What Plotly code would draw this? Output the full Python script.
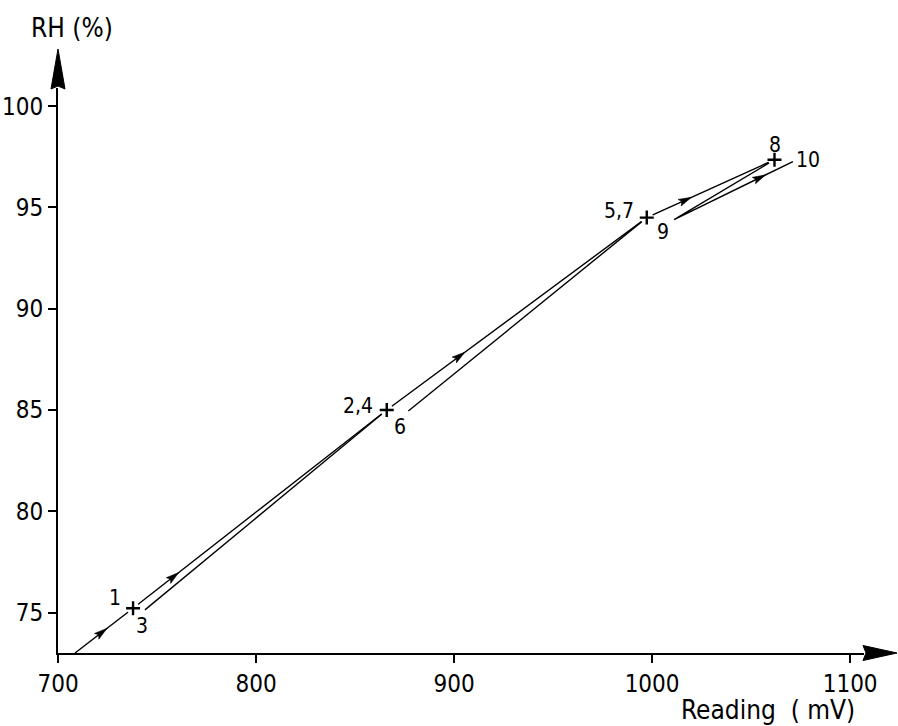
import math
import plotly.graph_objects as go

# ---- data ----
upper_x = [708.6, 737.9, 866.0, 997.3, 1061.8]   # start, 1, 2/4, 5/7, 8
upper_y = [73.0, 75.21, 85.0, 94.5, 97.36]
lower1_x = [743.9, 866.0]   # 3 -> 2,4
lower1_y = [75.13, 85.0]
lower2_x = [876.9, 997.3]   # 6 -> 5,7
lower2_y = [84.95, 94.5]
back_x = [1061.8, 1011.1, 1071.1]   # 8 -> 9 -> 10
back_y = [97.36, 94.4, 97.27]
marker_x = [737.9, 866.0, 997.3, 1061.8]
marker_y = [75.21, 85.0, 94.5, 97.36]
label_text = ["1", "3", "2,4", "6", "5,7", "9", "8", "10"]
label_x = [737.9, 743.9, 866.0, 876.9, 997.3, 1011.1, 1061.8, 1071.1]
label_y = [75.21, 75.13, 85.0, 84.95, 94.5, 94.4, 97.36, 97.27]
label_dx = [-18, -3, -29, -8, -28, -11, 1, 15]
label_dy = [10, -16, 4, -16, 7, -12, 15, 2]
x_ticks = [700, 800, 900, 1000, 1100]
y_ticks = [75, 80, 85, 90, 95, 100]
X_RANGE = [700, 1107]
Y_RANGE = [73, 100.9]

W, H = 898, 726
ML, MR, MT, MB = 58, 34, 88, 73
PW, PH = W - ML - MR, H - MT - MB
sx = PW / (X_RANGE[1] - X_RANGE[0])
sy = PH / (Y_RANGE[1] - Y_RANGE[0])

FONT = "Liberation Sans Narrow, DejaVu Sans Condensed, Arial Narrow, Liberation Sans, sans-serif"

fig = go.Figure()
line = dict(color="black", width=1.4)
fig.add_trace(go.Scatter(x=upper_x, y=upper_y, mode="lines", line=line, hoverinfo="skip"))
fig.add_trace(go.Scatter(x=lower1_x, y=lower1_y, mode="lines", line=line, hoverinfo="skip"))
fig.add_trace(go.Scatter(x=lower2_x, y=lower2_y, mode="lines", line=line, hoverinfo="skip"))
fig.add_trace(go.Scatter(x=back_x, y=back_y, mode="lines", line=line, hoverinfo="skip"))
# white gaps around crosses
fig.add_trace(go.Scatter(x=marker_x, y=marker_y, mode="markers",
                         marker=dict(symbol="circle", size=13, color="white"), hoverinfo="skip"))
fig.add_trace(go.Scatter(x=marker_x, y=marker_y, mode="markers",
                         marker=dict(symbol="cross-thin", size=10,
                                     line=dict(color="black", width=2.4)), hoverinfo="skip"))

shapes = []


def arrow_shape(x0, y0, x1, y1, frac, L=13, Wd=3.6):
    tx = x0 + frac * (x1 - x0)
    ty = y0 + frac * (y1 - y0)
    dx = (x1 - x0) * sx
    dy = (y1 - y0) * sy
    n = math.hypot(dx, dy)
    ux, uy = dx / n, dy / n
    px, py = -uy, ux
    pts = [(0, 0),
           (-L * ux + Wd * px, -L * uy + Wd * py),
           (-0.8 * L * ux, -0.8 * L * uy),
           (-L * ux - Wd * px, -L * uy - Wd * py)]
    path = "M" + " L".join(f"{a:.2f},{b:.2f}" for a, b in pts) + " Z"
    return dict(type="path", xref="x", yref="y", xsizemode="pixel", ysizemode="pixel",
                xanchor=tx, yanchor=ty, path=path, fillcolor="black",
                line=dict(color="black", width=0.6))


arrow_segs = [(0, 0.55), (1, 0.18), (2, 0.30), (3, 0.35)]
for i, f in arrow_segs:
    shapes.append(arrow_shape(upper_x[i], upper_y[i], upper_x[i + 1], upper_y[i + 1], f))
shapes.append(arrow_shape(back_x[1], back_y[1], back_x[2], back_y[2], 0.77))

# axis arrowheads
shapes.append(dict(type="path", xref="paper", yref="paper", xsizemode="pixel", ysizemode="pixel",
                   xanchor=0, yanchor=1, path="M-7,-1 L0,39 L7,-1 L0,2 Z",
                   fillcolor="black", line=dict(color="black", width=1)))
shapes.append(dict(type="path", xref="paper", yref="paper", xsizemode="pixel", ysizemode="pixel",
                   xanchor=1, yanchor=0, path="M-1,7.5 L33,0 L-1,-7.5 L2,0 Z",
                   fillcolor="black", line=dict(color="black", width=1)))

annotations = []
for t, x, y, dx, dy in zip(label_text, label_x, label_y, label_dx, label_dy):
    annotations.append(dict(x=x, y=y, xref="x", yref="y", text=t, showarrow=False,
                            xanchor="center", yanchor="middle",
                            xshift=dx, yshift=dy, font=dict(family=FONT, size=21, color="black")))
annotations.append(dict(x=0, y=1, xref="paper", yref="paper", text="RH (%)", showarrow=False,
                        xanchor="center", yanchor="middle",
                        xshift=14, yshift=60, font=dict(family=FONT, size=26, color="black")))
annotations.append(dict(x=1, y=0, xref="paper", yref="paper", text="Reading  ( mV)", showarrow=False,
                        xanchor="center", yanchor="middle",
                        xshift=-96, yshift=-57, font=dict(family=FONT, size=26, color="black")))

axis_common = dict(showgrid=False, zeroline=False, showline=True, linecolor="black", linewidth=2,
                   ticks="outside", ticklen=8, tickwidth=1.5, tickcolor="black", automargin=False,
                   tickfont=dict(family=FONT, size=24, color="black"))
fig.update_layout(
    width=W, height=H, margin=dict(l=ML, r=MR, t=MT, b=MB, autoexpand=False),
    plot_bgcolor="white", paper_bgcolor="white", showlegend=False,
    xaxis=dict(range=X_RANGE, tickvals=x_ticks, **axis_common),
    yaxis=dict(range=Y_RANGE, tickvals=y_ticks, **axis_common),
    shapes=shapes, annotations=annotations,
)
fig.write_html("out.html", config={"displayModeBar": False},
               post_script="document.body.style.margin='0px';")
